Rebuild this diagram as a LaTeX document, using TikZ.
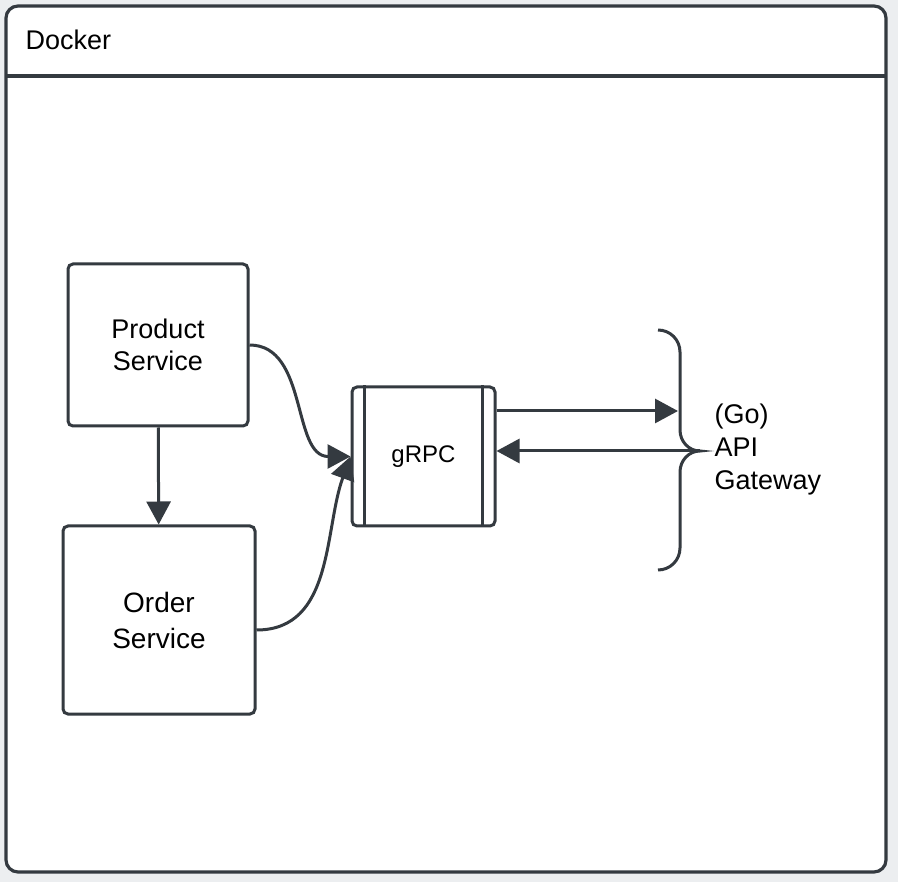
\documentclass[tikz,border=0pt]{standalone}
\usepackage{fontspec}
\setmainfont{Liberation Sans}
\usetikzlibrary{positioning,arrows.meta}
\definecolor{ink}{HTML}{343A40}
\definecolor{page}{HTML}{ECEEF0}
\tikzset{
  box/.style={draw=ink,line width=3pt,rounded corners=5pt,fill=white,align=center,text=black},
  link/.style={draw=ink,line width=3pt,-{Triangle[length=23pt,width=24pt]}},
}
\begin{document}
\begin{tikzpicture}[x=1pt,y=-1pt]
  \useasboundingbox (0,0) rectangle (898,882);
  \fill[page] (0,0) rectangle (898,882);
  % container
  \draw[ink,line width=3.2pt,rounded corners=12pt,fill=white] (6,6) rectangle (886,872);
  \draw[ink,line width=3.2pt] (6,76) -- (886,76);
  \node(docker) [anchor=west,font=\fontsize{27}{32}\selectfont] at (22,40) {Docker};
  % services
  \node(product) [box,minimum width=180pt,minimum height=162pt,font=\fontsize{27}{32}\selectfont] at (158,345) {Product\\Service};
  \node(order)   [box,minimum width=192pt,minimum height=188pt,font=\fontsize{28}{36}\selectfont] at (159,620) {Order\\Service};
  \node(grpc)    [box,minimum width=143pt,minimum height=139pt,font=\fontsize{24}{28}\selectfont] at (423.5,456.5) {gRPC};
  \draw[ink,line width=3pt] ([xshift=14pt]grpc.north west) -- ([xshift=14pt]grpc.south west);
  \draw[ink,line width=3pt] ([xshift=-14pt]grpc.north east) -- ([xshift=-14pt]grpc.south east);
  % gateway
  \coordinate(tip) at (700,451);
  \draw[ink,line width=3pt] (658,330) to[out=0,in=90] (680,352) -- (680,430)
     to[out=270,in=180] (tip) to[out=180,in=90] (680,472) -- (680,548) to[out=270,in=0] (658,570);
  \node(gateway) [anchor=west,align=left,font=\fontsize{27}{33}\selectfont] at (711,450) {(Go)\\API\\Gateway};
  \coordinate(brace) at (678,411);
  % connectors
  \draw[link] (product) -- (order);
  \draw[link] (product.east |- 0,345) to[out=0,in=180] (grpc.west);
  \draw[link] (order.east |- 0,630) to[out=0,in=250] (grpc.west);
  \draw[link] (grpc.east |- brace) -- (brace);
  \draw[link] (tip) -- (grpc.east |- tip);
\end{tikzpicture}
\end{document}
